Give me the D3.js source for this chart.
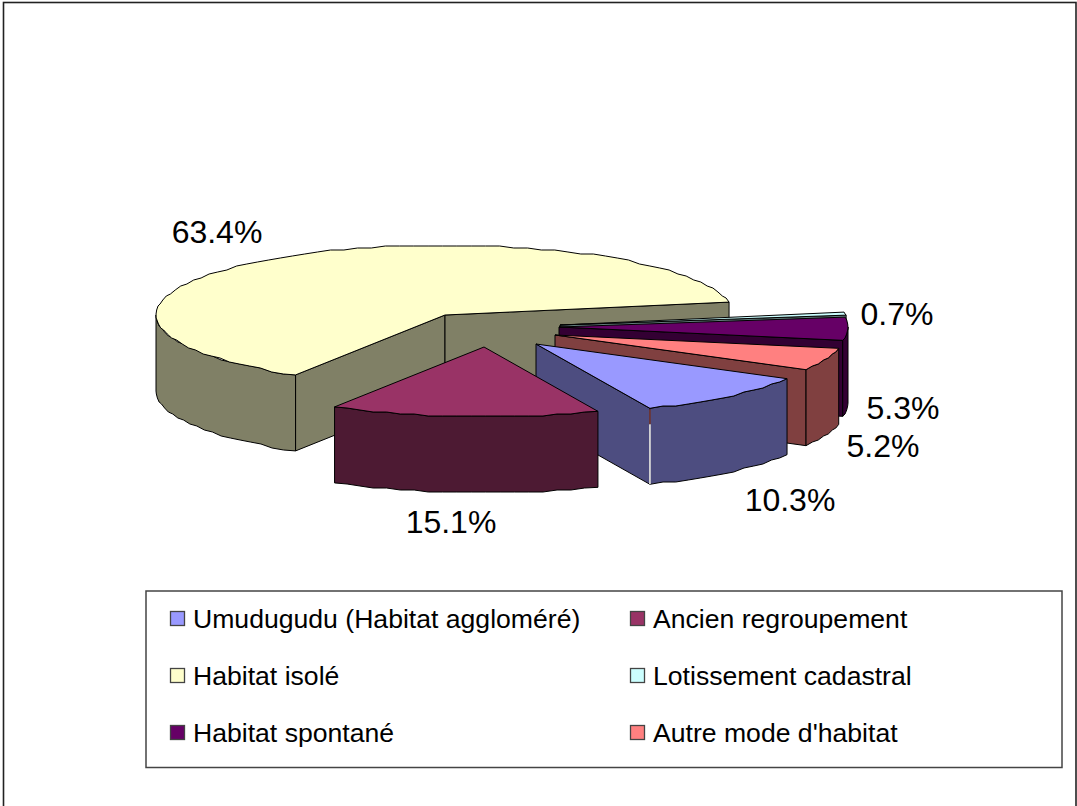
<!DOCTYPE html>
<html>
<head>
<meta charset="utf-8">
<script src="https://cdn.jsdelivr.net/npm/d3@7"></script>
<style>
  html, body { margin: 0; padding: 0; background: #fff; }
  svg { display: block; }
  text { font-family: "Liberation Sans", Arial, sans-serif; fill: #000; }
</style>
</head>
<body>
<div id="chart"></div>
<script>
// values as printed on the chart, clockwise from the first legend entry
const categories = [
  'Umudugudu (Habitat aggloméré)',
  'Ancien regroupement',
  'Habitat isolé',
  'Lotissement cadastral',
  'Habitat spontané',
  "Autre mode d'habitat",
]
const shares = [10.3, 15.1, 63.4, 0.7, 5.3, 5.2]
const topColors = ['#9999ff', '#993366', '#ffffcc', '#ccffff', '#660066', '#ff8080']
const sideColors = ['#4d4d80', '#4d1a33', '#808066', '#668080', '#330033', '#804040']

// where each exploded slice's apex ended up, and where the labels sit
const apexes = [[536, 344], [484, 347], [445, 315], [560, 325], [559, 327], [555, 335]]
const labelPos = [[790, 511], [451, 533], [217, 243], [897, 325], [903, 419], [883, 457]]
// back-to-front
const drawOrder = [2, 3, 4, 5, 0, 1]

const rx = 289
const ry = 70
const depth = 76
// first slice starts about 30 degrees below the horizontal, right side
const startDeg = -29.7

const svg = d3.select('#chart').append('svg').attr('width', 1077).attr('height', 806)

svg.append('rect')
  .attr('x', 3.5).attr('y', 2.5).attr('width', 1072.5).attr('height', 900)
  .attr('fill', '#fff').attr('stroke', '#222').attr('stroke-width', 1.6)

// d3.pie gives the sweep, angle 0 = start of the first slice, going clockwise on screen
const pie = d3.pie().sort(null).value((d) => d).startAngle(0).endAngle(2 * Math.PI)
const arcs = pie(shares)

const toT = (a) => (startDeg * Math.PI) / 180 - a
const rim = (apex, t) => [apex[0] + rx * Math.cos(t), apex[1] - ry * Math.sin(t)]
const line = d3.line()

// rough polygon rim, the original renderer steps its ellipses
const rimPoints = (apex, t0, t1) => {
  let n = Math.max(2, Math.ceil(Math.abs(t1 - t0) / 0.05))
  return d3.range(n + 1).map((i) => {
    let p = rim(apex, t0 + ((t1 - t0) * i) / n)
    if (i === 0 || i === n) return p
    return [p[0], Math.round(p[1] / 2) * 2]
  })
}

const down = (pts) => pts.map((p) => [p[0], p[1] + depth]).reverse()

const drawPoly = (pts, fill) => {
  svg.append('path')
    .attr('d', line(pts) + 'Z')
    .attr('fill', fill)
    .attr('stroke', '#000')
    .attr('stroke-width', 1)
    .attr('stroke-linejoin', 'round')
}

drawOrder.forEach((i) => {
  let apex = apexes[i]
  let t0 = toT(arcs[i].startAngle)
  let t1 = toT(arcs[i].endAngle)
  let mid = rim(apex, (t0 + t1) / 2)
  let m = [mid[0] - apex[0], mid[1] - apex[1]]

  // radial cut faces, only the ones that look towards the viewer
  ;[t0, t1].forEach((t) => {
    let p = rim(apex, t)
    let v = [p[0] - apex[0], p[1] - apex[1]]
    let cross = v[0] * m[1] - v[1] * m[0]
    if (v[0] * cross < 0) {
      drawPoly([apex, p, [p[0], p[1] + depth], [apex[0], apex[1] + depth]], sideColors[i])
    }
  })

  // outer wall, the part of the rim below the horizontal axis
  let twoPi = 2 * Math.PI
  for (let k = -2; k <= 1; k++) {
    let lo = Math.max(t1, -Math.PI + k * twoPi)
    let hi = Math.min(t0, k * twoPi)
    if (hi > lo) {
      let pts = rimPoints(apex, hi, lo)
      drawPoly(pts.concat(down(pts)), sideColors[i])
    }
  }

  // top face
  drawPoly([apex].concat(rimPoints(apex, t0, t1)), topColors[i])
})

// the sliver where the blue slice's two walls do not quite meet
let seam = rim(apexes[0], toT(arcs[0].endAngle))
svg.append('line')
  .attr('x1', seam[0]).attr('x2', seam[0])
  .attr('y1', seam[1] + 1).attr('y2', seam[1] + 16)
  .attr('stroke', '#804040').attr('stroke-width', 1.5)
svg.append('line')
  .attr('x1', seam[0]).attr('x2', seam[0])
  .attr('y1', seam[1] + 16).attr('y2', seam[1] + depth)
  .attr('stroke', '#fff').attr('stroke-width', 1.5)

// labels
shares.forEach((d, i) => {
  svg.append('text')
    .attr('x', labelPos[i][0])
    .attr('y', labelPos[i][1])
    .attr('text-anchor', 'middle')
    .style('font-size', '32px')
    .text(d3.format('.1f')(d) + '%')
})

// legend, read across then down
const legendOrder = [0, 1, 2, 3, 4, 5]
const legendX = d3.scalePoint().domain([0, 1]).range([170, 630])
const legendY = d3.scalePoint().domain([0, 1, 2]).range([611, 725])

svg.append('rect')
  .attr('x', 146).attr('y', 591).attr('width', 916).attr('height', 176.5)
  .attr('fill', '#fff').attr('stroke', '#444').attr('stroke-width', 1.5)

legendOrder.forEach((c, i) => {
  let col = i % 2
  let row = Math.floor(i / 2)
  let g = svg.append('g')
    .attr('transform', `translate(${legendX(col)},${legendY(row)})`)
  g.append('rect')
    .attr('x', 0.5).attr('y', 0.5).attr('width', 14).attr('height', 14)
    .attr('fill', topColors[c]).attr('stroke', '#444').attr('stroke-width', 1.3)
  g.append('text')
    .attr('x', 23).attr('y', 17)
    .style('font-size', '26.6px')
    .text(categories[c])
})
</script>
</body>
</html>
